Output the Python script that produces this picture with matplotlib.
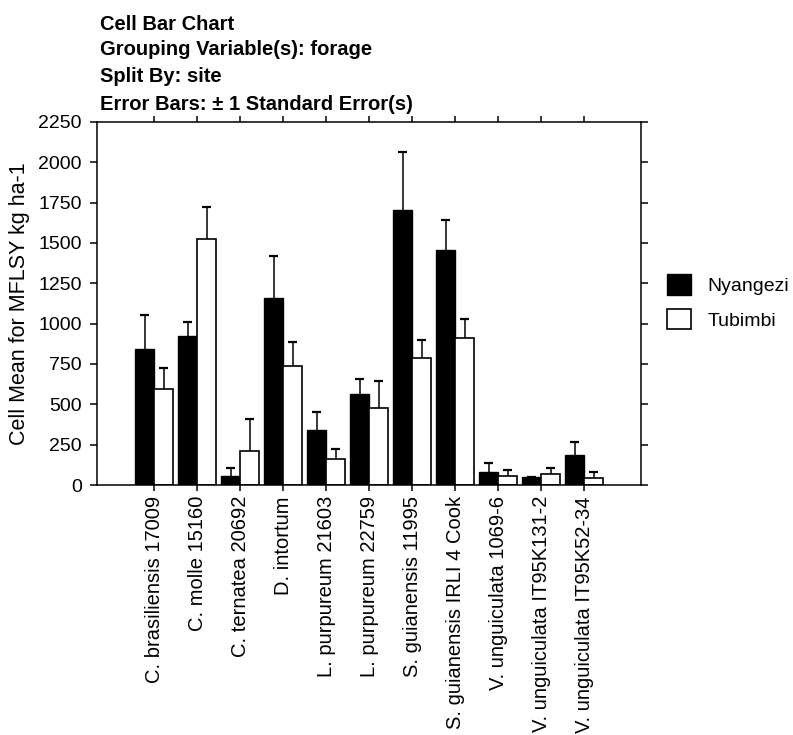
import numpy as np
import matplotlib
matplotlib.use('Agg')
import matplotlib.pyplot as plt

plt.rcParams['font.family'] = ['Liberation Sans', 'DejaVu Sans']

# data
forages = ['C. brasiliensis 17009', 'C. molle 15160', 'C. ternatea 20692',
           'D. intortum', 'L. purpureum 21603', 'L. purpureum 22759',
           'S. guianensis 11995', 'S. guianensis IRLI 4 Cook',
           'V. unguiculata 1069-6', 'V. unguiculata IT95K131-2',
           'V. unguiculata IT95K52-34']
nyangezi = [843, 925, 58, 1161, 341, 564, 1703, 1455, 83, 47, 188]
nyangezi_se = [211, 83, 45, 258, 113, 91, 359, 186, 56, 0, 79]
tubimbi = [597, 1523, 211, 738, 163, 479, 785, 913, 58, 68, 45]
tubimbi_se = [130, 198, 198, 150, 58, 164, 116, 116, 35, 35, 38]
yticks = [0, 250, 500, 750, 1000, 1250, 1500, 1750, 2000, 2250]

title_lines = ['Cell Bar Chart', 'Grouping Variable(s): forage',
               'Split By: site', 'Error Bars: \u00b1 1 Standard Error(s)']

fig = plt.figure(figsize=(7.93, 7.35), dpi=100)
ax = fig.add_axes([97 / 793, 1 - 485 / 735, (641 - 97) / 793, (485 - 122) / 735])

x = np.arange(len(forages))
w = 0.44
cap = 0.105
ax.bar(x - w / 2, nyangezi, width=w, color='black', edgecolor='black',
       linewidth=1.0, label='Nyangezi', zorder=2)
ax.bar(x + w / 2, tubimbi, width=w, color='white', edgecolor='black',
       linewidth=1.2, label='Tubimbi', zorder=2)

# only the upper half of each error bar is drawn
for xs, ys, se in [(x - w / 2, nyangezi, nyangezi_se),
                   (x + w / 2, tubimbi, tubimbi_se)]:
    ys = np.array(ys)
    top = ys + np.array(se)
    ax.vlines(xs, ys, top, color='black', linewidth=1.1, zorder=3)
    ax.hlines(top, xs - cap, xs + cap, color='black', linewidth=1.6, zorder=3)

ax.set_xlim(-1.33, 11.32)
ax.set_ylim(0, 2250)
ax.set_yticks(yticks)
ax.set_xticks(x)
ax.set_xticklabels(forages, rotation=90, fontsize=14.5)
ax.tick_params(axis='y', labelsize=14, length=5, width=1.1, pad=6,
               direction='out', right=True)
ax.tick_params(axis='x', length=4, width=1.1, pad=4, direction='out', top=True,
               labeltop=False)
for side in ax.spines.values():
    side.set_linewidth(1.1)

ax.set_ylabel('Cell Mean for MFLSY kg ha-1', fontsize=15.5, labelpad=6)

ys = [30, 55, 82, 110]
for line, yy in zip(title_lines, ys):
    fig.text(100 / 793, 1 - yy / 735, line, fontsize=14.5, fontweight='bold',
             ha='left', va='baseline')

leg = fig.legend(loc='center left', bbox_to_anchor=(667 / 793, 1 - 302 / 735),
                 frameon=False, fontsize=14, handlelength=1.25, handleheight=1.25,
                 handletextpad=0.85, labelspacing=0.7, borderpad=0,
                 borderaxespad=0)

fig.savefig('out.png', dpi=100)
